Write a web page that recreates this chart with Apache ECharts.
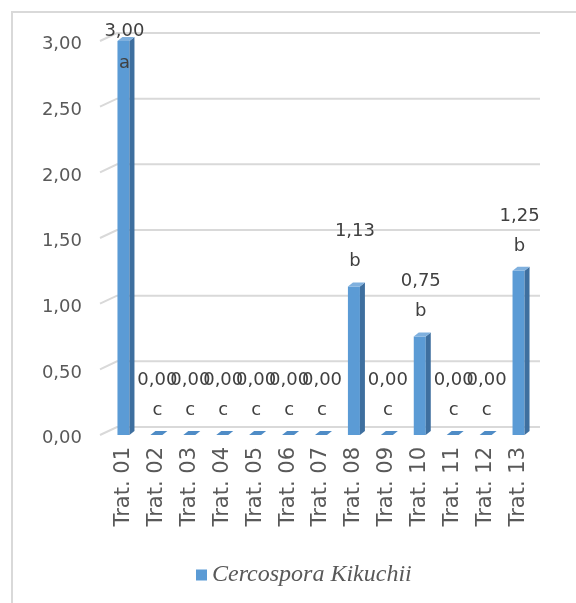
<!DOCTYPE html>
<html>
<head>
<meta charset="utf-8">
<script src="https://cdn.jsdelivr.net/npm/echarts@6/dist/echarts.min.js"></script>
<style>
  html, body { margin: 0; padding: 0; background: #ffffff; }
  #chart { width: 576px; height: 603px; }
</style>
</head>
<body>
<div id="chart"></div>
<script>
// Treatments and mean severity of Cercospora kikuchii
const categories = ['Trat. 01', 'Trat. 02', 'Trat. 03', 'Trat. 04', 'Trat. 05', 'Trat. 06', 'Trat. 07',
                    'Trat. 08', 'Trat. 09', 'Trat. 10', 'Trat. 11', 'Trat. 12', 'Trat. 13'];
const values = [3.00, 0.00, 0.00, 0.00, 0.00, 0.00, 0.00, 1.13, 0.00, 0.75, 0.00, 0.00, 1.25];
// Statistical grouping letters shown under each value
const groups = ['a', 'c', 'c', 'c', 'c', 'c', 'c', 'b', 'c', 'b', 'c', 'c', 'b'];
const yTicks = [0, 0.5, 1.0, 1.5, 2.0, 2.5, 3.0];
const seriesName = 'Cercospora Kikuchii';

const fmt = v => v.toFixed(2).replace('.', ',');

const FRONT = '#5B9BD5';
const SIDE = '#3E6F9F';
const TOP = '#7FB0DE';
const GRID = '#D9D9D9';
const TEXT = '#595959';
const LABEL = '#404040';
const FONT = '"DejaVu Sans", Verdana, sans-serif';

// Back-wall gridlines with a short receding segment at the left edge
function renderWall(params, api) {
  const cs = params.coordSys;
  const y = api.coord([0, api.value(1)])[1];
  const depthX = 17, depthY = -8;
  const x0 = cs.x - 7;
  return {
    type: 'polyline',
    shape: { points: [[x0, y], [x0 + depthX, y + depthY], [cs.x + cs.width + 5, y + depthY]] },
    style: { stroke: GRID, lineWidth: 2, fill: null },
    silent: true
  };
}

// Bars with a front face, a darker right side and a lighter top face
function renderBar(params, api) {
  const cs = params.coordSys;
  const idx = api.value(0);
  const val = api.value(1);
  const top = api.coord([idx, val]);
  const base = api.coord([idx, 0]);
  const w = 12, dx = 5, dy = -4;
  const x0 = top[0] - w / 2, x1 = top[0] + w / 2;
  const yT = top[1], yB = base[1];
  const children = [];
  if (yB - yT > 0.5) {
    children.push({
      type: 'polygon',
      shape: { points: [[x0, yT], [x1, yT], [x1, yB], [x0, yB]] },
      style: { fill: FRONT }
    });
    children.push({
      type: 'polygon',
      shape: { points: [[x1, yT], [x1 + dx, yT + dy], [x1 + dx, yB + dy], [x1, yB]] },
      style: { fill: SIDE }
    });
  }
  children.push({
    type: 'polygon',
    shape: { points: [[x0, yT], [x0 + dx, yT + dy], [x1 + dx, yT + dy], [x1, yT]] },
    style: { fill: yB - yT > 0.5 ? TOP : '#4F8CC6' }
  });

  // Value and group letter; placed inside the bar when there is no room above
  let vy = yT - 55, ly = yT - 25;
  if (vy < cs.y - 5) { vy = yT - 10; ly = yT + 22; }
  const cx = top[0] + 1;
  children.push({
    type: 'text',
    style: { text: fmt(val), x: cx, y: vy, align: 'center', verticalAlign: 'middle',
             font: '18px ' + FONT, fill: LABEL }
  });
  children.push({
    type: 'text',
    style: { text: groups[idx], x: cx, y: ly, align: 'center', verticalAlign: 'middle',
             font: '18px ' + FONT, fill: LABEL }
  });
  return { type: 'group', children: children };
}

const chart = echarts.init(document.getElementById('chart'), null, { renderer: 'canvas' });
chart.setOption({
  animation: false,
  backgroundColor: '#ffffff',
  graphic: [{
    type: 'rect',
    shape: { x: 12, y: 12, width: 620, height: 620 },
    style: { fill: null, stroke: '#D9D9D9', lineWidth: 2 },
    silent: true
  }],
  grid: { left: 107, right: 41, top: 41, bottom: 168, containLabel: false },
  xAxis: {
    type: 'category',
    data: categories,
    axisLine: { show: false },
    axisTick: { show: false },
    axisLabel: { rotate: 90, margin: 12, fontSize: 21, fontFamily: FONT, color: TEXT, interval: 0 }
  },
  yAxis: {
    type: 'value',
    min: 0, max: 3, interval: 0.5,
    axisLine: { show: false },
    axisTick: { show: false },
    splitLine: { show: false },
    axisLabel: {
      formatter: v => '{v|' + fmt(v) + '}',
      margin: 25,
      rich: { v: { fontSize: 18, fontFamily: FONT, color: TEXT, padding: [7, 0, 0, 0] } }
    }
  },
  legend: {
    data: [seriesName],
    top: 558,
    left: 191,
    icon: 'rect',
    itemWidth: 11,
    itemHeight: 11,
    itemGap: 4,
    textStyle: { fontFamily: '"Liberation Serif", serif', fontStyle: 'italic', fontSize: 24, color: TEXT }
  },
  series: [
    {
      type: 'custom',
      name: 'wall',
      renderItem: renderWall,
      data: yTicks.map(v => [0, v]),
      z: 1,
      silent: true
    },
    {
      type: 'custom',
      name: seriesName,
      renderItem: renderBar,
      itemStyle: { color: FRONT },
      data: values.map((v, i) => [i, v]),
      z: 2
    }
  ]
});
</script>
</body>
</html>
